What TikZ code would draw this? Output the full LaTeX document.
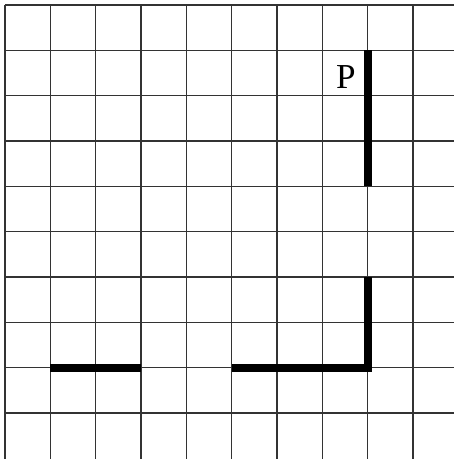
\documentclass[tikz,border=0pt]{standalone}
\usepackage{fontspec}
\setmainfont{Liberation Serif}
\usetikzlibrary{positioning}

\begin{document}
\begin{tikzpicture}[x=1cm,y=-1cm,gridline/.style={black!80,line width=0.8pt},heavy/.style={line width=5pt,line cap=butt,line join=miter}]
\useasboundingbox (0,0) rectangle (10.015,10.126);
% grid
\foreach \i in {0,...,9}{
\draw[gridline] ({0.11+\i},0.11) -- ({0.11+\i},10.126);
\draw[gridline] (0.11,{0.11+\i}) -- (10.015,{0.11+\i});
}
% segment ends
\coordinate (p1) at (8.11,1.11);
\coordinate (p2) at (8.11,4.11);
\coordinate (q1) at (8.11,6.11);
\coordinate (q2) at (8.11,8.11);
\coordinate (q3) at (5.11,8.11);
\coordinate (r1) at (1.11,8.11);
\coordinate (r2) at (3.11,8.11);

\draw[heavy] (p1) -- (p2);
\draw[heavy] (q1) -- (q2) -- (q3);
\draw[heavy] (r1) -- (r2);
\node (labP) at (7.63,1.7) {\fontsize{22}{24}\selectfont P};
\end{tikzpicture}
\end{document}
